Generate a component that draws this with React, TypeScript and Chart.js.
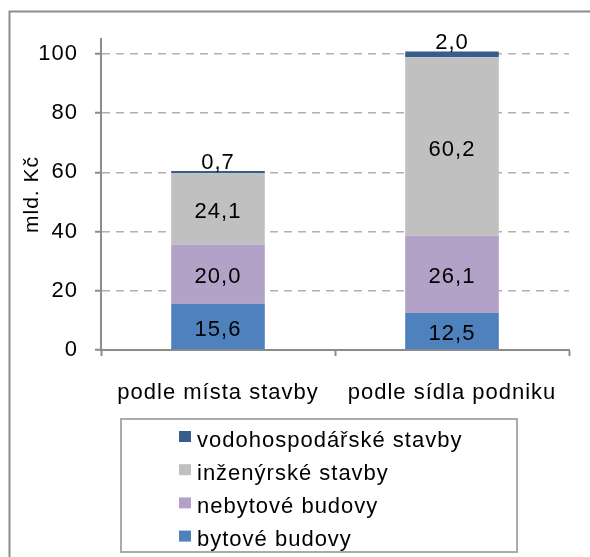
import React, { useEffect, useRef } from 'react';
import { Chart, registerables } from 'chart.js';

Chart.register(...registerables);

const categories = ['podle místa stavby', 'podle sídla podniku'];
const seriesNames = ['bytové budovy', 'nebytové budovy', 'inženýrské stavby', 'vodohospodářské stavby'];
const bytoveBudovy = [15.6, 12.5];
const nebytoveBudovy = [20.0, 26.1];
const inzenyrskeStavby = [24.1, 60.2];
const vodohospodarskeStavby = [0.7, 2.0];
const seriesColors = ['#4F81BD', '#B2A2C7', '#C0C0C0', '#385D8A'];
const yTicks = [0, 20, 40, 60, 80, 100];
const yMax = 105;
const axisTitle = 'mld. Kč';

const FONT = "'Liberation Sans', Arial, sans-serif";
const SPACING = '1px';

const spacingPlugin = {
  id: 'spacingPlugin',
  beforeLayout(chart: any) {
    chart.ctx.letterSpacing = SPACING;
  },
  beforeDraw(chart: any) {
    const ctx = chart.ctx;
    ctx.letterSpacing = SPACING;
    ctx.save();
    ctx.fillStyle = '#ffffff';
    ctx.fillRect(0, 0, chart.width, chart.height);
    ctx.strokeStyle = '#8C8C8C';
    ctx.lineWidth = 2;
    ctx.strokeRect(9.5, 11.5, chart.width + 20, chart.height + 20);
    ctx.restore();
  },
};

const labelPlugin = {
  id: 'labelPlugin',
  afterDatasetsDraw(chart: any) {
    const ctx = chart.ctx;
    const last = chart.data.datasets.length - 1;
    ctx.save();
    ctx.font = `22px ${FONT}`;
    ctx.fillStyle = '#000';
    ctx.textAlign = 'center';
    chart.data.datasets.forEach((ds: any, di: number) => {
      const meta = chart.getDatasetMeta(di);
      meta.data.forEach((el: any, i: number) => {
        const v = ds.data[i] as number;
        const { x, y, base } = el.getProps(['x', 'y', 'base'], true);
        const text = v.toFixed(1).replace('.', ',');
        if (di === last) {
          ctx.textBaseline = 'alphabetic';
          ctx.fillText(text, x, y - 2);
        } else {
          ctx.textBaseline = 'middle';
          ctx.fillText(text, x, (y + base) / 2 + 3);
        }
      });
    });
    ctx.restore();
  },
};

const legendPlugin = {
  id: 'boxLegend',
  afterDraw(chart: any) {
    const ctx = chart.ctx;
    ctx.save();
    ctx.strokeStyle = '#ABABAB';
    ctx.lineWidth = 2;
    ctx.strokeRect(121, 419, 396, 133);
    ctx.font = `22px ${FONT}`;
    ctx.fillStyle = '#000';
    ctx.textAlign = 'left';
    ctx.textBaseline = 'alphabetic';
    const ds = chart.data.datasets;
    for (let k = 0; k < ds.length; k++) {
      const d = ds[ds.length - 1 - k];
      const rowY = 431 + 33.2 * k;
      ctx.fillStyle = d.backgroundColor;
      ctx.fillRect(179, rowY, 12, 11);
      ctx.fillStyle = '#000';
      ctx.fillText(d.label, 197, rowY + 15.5);
    }
    ctx.restore();
  },
};

export default function App() {
  const ref = useRef<HTMLCanvasElement | null>(null);

  useEffect(() => {
    if (!ref.current) return;
    const values = [bytoveBudovy, nebytoveBudovy, inzenyrskeStavby, vodohospodarskeStavby];
    const chart = new Chart(ref.current, {
      type: 'bar',
      data: {
        labels: categories,
        datasets: values.map((vals, i) => ({
          label: seriesNames[i],
          data: vals,
          backgroundColor: seriesColors[i],
          borderWidth: 0,
          barPercentage: 0.4,
          categoryPercentage: 1.0,
        })),
      },
      options: {
        responsive: false,
        devicePixelRatio: 1,
        animation: false,
        layout: { padding: { top: 39, right: 21, bottom: 137, left: 0 } },
        plugins: {
          legend: { display: false },
          tooltip: { enabled: false },
        },
        scales: {
          x: {
            stacked: true,
            offset: true,
            grid: {
              display: true,
              offset: true,
              drawOnChartArea: false,
              drawTicks: true,
              tickLength: 6,
              tickColor: '#8C8C8C',
              tickWidth: 2,
            },
            border: { display: true, color: '#8C8C8C', width: 2 },
            ticks: {
              color: '#000',
              font: { family: FONT, size: 22 },
              padding: 24,
              maxRotation: 0,
              autoSkip: false,
            },
            afterFit: (s: any) => {
              s.height = 70;
            },
          },
          y: {
            stacked: true,
            min: 0,
            max: yMax,
            afterBuildTicks: (s: any) => {
              s.ticks = yTicks.map((v) => ({ value: v }));
            },
            grid: {
              color: (c: any) => (c.tick && c.tick.value === 0 ? 'rgba(0,0,0,0)' : '#B0B0B0'),
              lineWidth: 1.5,
              drawTicks: true,
              tickLength: 6,
              tickColor: '#8C8C8C',
              tickWidth: 2,
            },
            border: { display: true, color: '#8C8C8C', width: 2, dash: [8, 6] },
            ticks: {
              color: '#000',
              font: { family: FONT, size: 22 },
              padding: 17,
            },
            title: {
              display: true,
              text: axisTitle,
              color: '#000',
              font: { family: FONT, size: 21 },
              padding: { top: 20, bottom: 0 },
            },
            afterFit: (s: any) => {
              s.width = 101;
            },
          },
        },
      },
      plugins: [spacingPlugin, labelPlugin, legendPlugin],
    } as any);
    return () => chart.destroy();
  }, []);

  return (
    <div style={{ position: 'fixed', left: 0, top: 0, width: 590, height: 557, background: '#fff' }}>
      <canvas ref={ref} width={590} height={557} style={{ display: 'block' }} />
    </div>
  );
}
